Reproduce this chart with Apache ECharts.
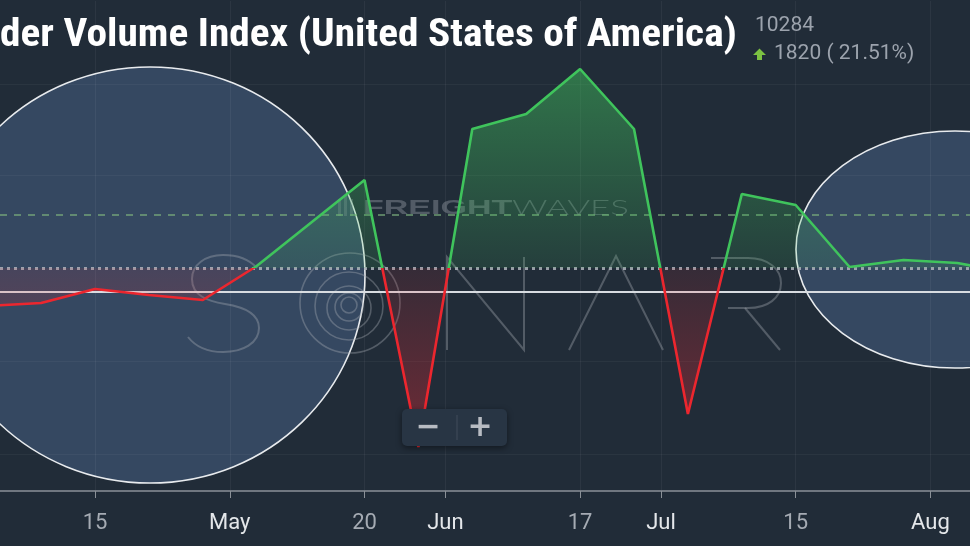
<!DOCTYPE html>
<html><head><meta charset="utf-8">
<script src="https://cdn.jsdelivr.net/npm/echarts@6/dist/echarts.min.js"></script>
<style>html,body{margin:0;padding:0;background:#212c38;}#c{width:970px;height:546px;}</style>
</head><body><div id="c"></div>
<script>
// ---- data ----
const weekIndex = [-7,-6,-5,-4,-3,-2,-1,0,1,2,3,4,5,6,7,8,9,10,11,12];
const values = [9860,9890,10030,9970,9920,10260,10690,11120,8450,11630,11780,12230,11630,8780,10980,10870,10250,10320,10290,10190];
const tickWeeks = [-5,-2.5,0,1.5,4,5.5,8,10.5];
const tickLabels = ['15','May','20','Jun','17','Jul','15','Aug'];
const monthLabels = ['May','Jun','Jul','Aug'];
const baseline = 10240;
const upperRef = 10770;
const lowerRef = 10000;
const gridValues = [8380,9310,11170,12080];
const titleText = 'der Volume Index (United States of America)';
const headerValue = '10284';
const headerChange = '1820 ( 21.51%)';

// visible window of the x axis (in weeks)
const viewStart = -6.763, viewEnd = 11.234;

const seriesData = weekIndex.map((w, i) => [w, values[i]]);
const vmax = Math.max(...values), vmin = Math.min(...values);
const f = (vmax - baseline) / (vmax - vmin);
const GREEN = '#3fc45c', RED = '#ec262e';

const chart = echarts.init(document.getElementById('c'));

// measure title to fit
const mctx = document.createElement('canvas').getContext('2d');
const titleFont = '"Liberation Sans Narrow", "Roboto Condensed", "DejaVu Sans Condensed", sans-serif';
mctx.font = 'bold 38px ' + titleFont;
const titleScale = 737 / mctx.measureText(titleText).width;

// watermark geometry (decoration)
const wmColor = 'rgba(165,170,180,0.38)';
const rings = [[350,303,50],[349,306,34],[349,308,22],[349,307,14],[349,305,8]];
const curves = [
  [257,268,248,258,236,255,223,255],[223,255,205,255,192,265,192,279],[192,279,192,296,208,301,225,304],
  [225,304,244,307,259,314,259,328],[259,328,259,343,243,352,223,352],[223,352,207,352,195,346,188,337],
  [748,258,768,258,781,269,781,283],[781,283,781,298,768,308,748,308]
];
const strokes = [
  [[447,350],[447,257],[524,350],[524,257]],
  [[569,350],[616,256],[663,350]],
  [[711,258],[748,258]], [[748,308],[728,308]], [[745,308],[780,350]]
];

const option = {
  backgroundColor: '#212c38',
  animation: false,
  grid: { left: 0, right: 0, top: 1, bottom: 55, containLabel: false },
  xAxis: {
    type: 'value', min: viewStart, max: viewEnd,
    axisLine: { show: true, lineStyle: { color: '#8b9198', width: 1.5 } },
    axisTick: { show: true, customValues: tickWeeks, length: 7, lineStyle: { color: '#8b9198', width: 1 } },
    axisLabel: {
      show: true, customValues: tickWeeks, margin: 21, fontSize: 22, fontFamily: 'Roboto, sans-serif',
      formatter: (v) => { const i = tickWeeks.indexOf(v); if (i < 0) return ''; const t = tickLabels[i]; return monthLabels.includes(t) ? '{m|' + t + '}' : '{d|' + t + '}'; },
      rich: { m: { color: '#e4e7ea', fontSize: 22, fontFamily: 'Roboto, sans-serif' }, d: { color: '#a5abb3', fontSize: 22, fontFamily: 'Roboto, sans-serif' } }
    },
    splitLine: { show: true, lineStyle: { color: 'rgba(255,255,255,0.05)', width: 1 } }
  },
  yAxis: { type: 'value', min: 8010, max: 12910, show: false, splitLine: { show: false } },
  series: [{
    type: 'line', data: seriesData, symbol: 'none', showSymbol: false, z: 5,
    lineStyle: {
      width: 2.6,
      color: new echarts.graphic.LinearGradient(0, 0, 0, 1, [
        { offset: 0, color: GREEN }, { offset: f, color: GREEN },
        { offset: f, color: RED }, { offset: 1, color: RED }
      ])
    },
    areaStyle: {
      origin: baseline,
      opacity: 1,
      color: new echarts.graphic.LinearGradient(0, 0, 0, 1, [
        { offset: 0, color: 'rgba(64,190,92,0.50)' },
        { offset: f, color: 'rgba(64,190,92,0.13)' },
        { offset: f, color: 'rgba(232,40,50,0.10)' },
        { offset: 1, color: 'rgba(232,40,50,0.40)' }
      ])
    },
    markLine: {
      silent: true, symbol: ['none', 'none'], label: { show: false }, animation: false,
      data: gridValues.map(v => ({ yAxis: v, lineStyle: { color: 'rgba(255,255,255,0.045)', width: 1, type: 'solid' } })).concat([
        { yAxis: upperRef, lineStyle: { color: 'rgba(125,175,125,0.85)', width: 1.5, type: [7, 7] } },
        { yAxis: baseline, lineStyle: { color: 'rgba(175,180,188,0.85)', width: 3, type: [3, 4] } },
        { yAxis: lowerRef, lineStyle: { color: '#d8dce1', width: 2, type: 'solid' } }
      ])
    }
  }],
  graphic: [
    { type: 'ellipse', z: -10, shape: { cx: 150, cy: 275, rx: 215, ry: 208 }, style: { fill: 'rgba(80,112,155,0.42)', stroke: '#e8ebee', lineWidth: 1.6 } },
    { type: 'ellipse', z: -10, shape: { cx: 955, cy: 249.5, rx: 159, ry: 118.5 }, style: { fill: 'rgba(80,112,155,0.42)', stroke: '#e8ebee', lineWidth: 1.6 } },
    ...curves.map(c => ({ type: 'bezierCurve', z: -5, shape: { x1: c[0], y1: c[1], cpx1: c[2], cpy1: c[3], cpx2: c[4], cpy2: c[5], x2: c[6], y2: c[7] }, style: { fill: 'none', stroke: wmColor, lineWidth: 2 } })),
    ...strokes.map(p => ({ type: 'polyline', z: -5, shape: { points: p }, style: { fill: 'none', stroke: wmColor, lineWidth: 2 } })),
    ...rings.map(r => ({ type: 'circle', z: -5, shape: { cx: r[0], cy: r[1], r: r[2] }, style: { fill: 'none', stroke: wmColor, lineWidth: 1.6 } })),
    // watermark FREIGHTWAVES
    { type: 'text', z: -4, x: 363, y: 208, scaleX: 1.62, style: { text: 'FREIGHT', fill: 'rgba(150,157,168,0.42)', font: 'bold 21px "Liberation Sans", Arial, sans-serif', verticalAlign: 'middle', align: 'left' } },
    { type: 'text', z: -4, x: 512, y: 208, scaleX: 1.66, style: { text: 'WAVES', fill: 'rgba(150,157,168,0.40)', font: '300 21px Lato, Roboto, sans-serif', verticalAlign: 'middle', align: 'left' } },
    { type: 'rect', z: -4, shape: { x: 338, y: 199, width: 3, height: 17 }, style: { fill: 'rgba(150,157,168,0.3)' } },
    { type: 'rect', z: -4, shape: { x: 344, y: 196, width: 3, height: 20 }, style: { fill: 'rgba(150,157,168,0.3)' } },
    { type: 'rect', z: -4, shape: { x: 350, y: 199, width: 3, height: 17 }, style: { fill: 'rgba(150,157,168,0.3)' } },
    // title and header
    { type: 'text', z: 50, x: 0, y: 36, scaleX: titleScale, style: { text: titleText, fill: '#ffffff', font: 'bold 38px ' + titleFont, verticalAlign: 'middle', align: 'left' } },
    { type: 'text', z: 50, x: 755, y: 26, style: { text: headerValue, fill: '#9ca3ad', font: '21px Roboto, sans-serif', verticalAlign: 'middle', align: 'left' } },
    { type: 'polygon', z: 50, shape: { points: [[753,55],[759.5,48.5],[766,55],[762,55],[762,60],[757,60],[757,55]] }, style: { fill: '#7cc242' } },
    { type: 'text', z: 50, x: 774, y: 54, style: { text: headerChange, fill: '#9ca3ad', font: '21px Roboto, sans-serif', verticalAlign: 'middle', align: 'left' } },
    // zoom control
    { type: 'rect', z: 60, shape: { x: 402, y: 409, width: 105, height: 37, r: 5 }, style: { fill: '#283544', shadowBlur: 6, shadowOffsetY: 2, shadowColor: 'rgba(0,0,0,0.45)' } },
    { type: 'line', z: 61, shape: { x1: 457, y1: 415, x2: 457, y2: 440 }, style: { stroke: 'rgba(255,255,255,0.12)', lineWidth: 1 } },
    { type: 'text', z: 61, x: 428, y: 428, style: { text: '\u2212', fill: '#b8bcc3', font: 'bold 30px "DejaVu Sans", sans-serif', verticalAlign: 'middle', align: 'center' } },
    { type: 'text', z: 61, x: 480, y: 428, style: { text: '+', fill: '#b8bcc3', font: 'bold 30px "DejaVu Sans", sans-serif', verticalAlign: 'middle', align: 'center' } }
  ]
};
chart.setOption(option);
</script>
</body></html>
